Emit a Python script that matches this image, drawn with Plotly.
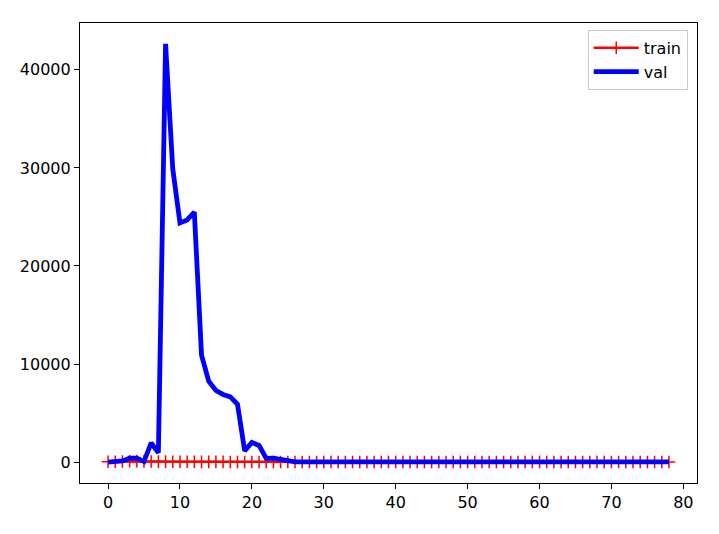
import plotly.graph_objects as go

epochs = list(range(79))

val_loss = [0, 20, 120, 400, 400, 60, 1950, 950, 42650, 29900, 24400, 24700, 25500,
            10900, 8250, 7300, 6900, 6650, 5900, 1150, 2000, 1700, 370, 400, 250, 50]
val_loss += [20] * (79 - len(val_loss))

train_loss = [30, 40, 60, 90, 100, 70, 60, 50, 45, 40, 35, 30, 28, 25, 22, 20, 18, 16,
              15, 14, 13, 12, 11, 10, 10, 9]
train_loss += [8] * (79 - len(train_loss))

x_ticks = [0, 10, 20, 30, 40, 50, 60, 70, 80]
y_ticks = [0, 10000, 20000, 30000, 40000]

fig = go.Figure()
fig.add_trace(go.Scatter(
    x=epochs, y=train_loss, name="train", mode="lines+markers",
    line=dict(color="red", width=2.5),
    marker=dict(symbol="cross-thin", size=9, color="red",
                line=dict(color="red", width=1.5)),
))
fig.add_trace(go.Scatter(
    x=epochs, y=val_loss, name="val", mode="lines",
    line=dict(color="blue", width=4.8),
))

ymax = max(val_loss)
pad = 0.05 * ymax
axis_common = dict(
    showline=True, mirror=True, linecolor="black", linewidth=1.2,
    ticks="outside", ticklen=5, tickwidth=1.2, tickcolor="black",
    showgrid=False, zeroline=False,
)
# page body has an 8px default margin, so the figure is offset by 8px
fig.update_layout(
    width=711, height=526,
    margin=dict(l=69, r=22, t=15, b=51),
    paper_bgcolor="white", plot_bgcolor="white",
    font=dict(family="DejaVu Sans", size=16, color="black"),
    xaxis=dict(range=[-3.9, 81.9], tickvals=x_ticks, **axis_common),
    yaxis=dict(range=[-pad, ymax + pad], tickvals=y_ticks, tickformat="d", **axis_common),
    legend=dict(x=0.985, y=0.985, xanchor="right", yanchor="top",
                bgcolor="white", bordercolor="#cccccc", borderwidth=1,
                itemwidth=45, font=dict(size=16)),
    showlegend=True,
)
fig.write_html("out.html")
